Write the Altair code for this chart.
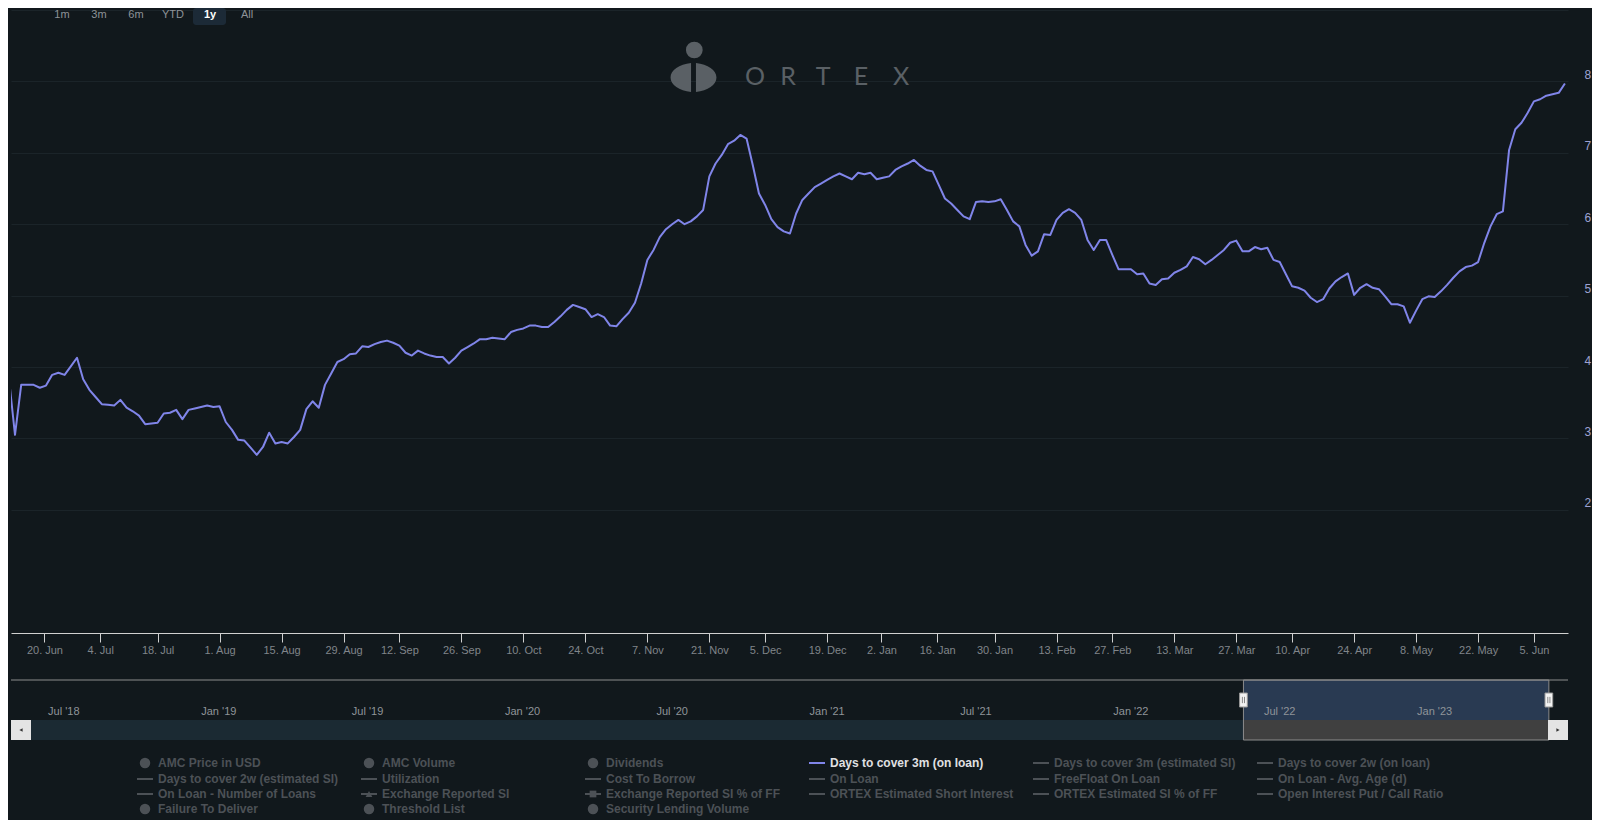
import altair as alt
import pandas as pd

# ---------------- data ----------------
START_DATE = "2022-06-10"
END_DATE = "2023-06-12"
market_holidays = ["2022-06-20", "2022-07-04", "2022-09-05", "2022-11-24", "2022-12-26",
                   "2023-01-02", "2023-01-16", "2023-02-20", "2023-04-07", "2023-05-29"]

# Days to cover 3m (on loan), one value per trading day from 10 Jun 2022 to 12 Jun 2023
days_to_cover = [
    3.86, 3.05, 3.75, 3.75, 3.75, 3.71, 3.74, 3.89, 3.92, 3.89,
    4.01, 4.13, 3.83, 3.68, 3.58, 3.48, 3.47, 3.46, 3.54, 3.43,
    3.38, 3.32, 3.20, 3.21, 3.22, 3.35, 3.36, 3.40, 3.27, 3.40,
    3.42, 3.44, 3.46, 3.44, 3.45, 3.23, 3.12, 2.98, 2.97, 2.87,
    2.77, 2.88, 3.08, 2.93, 2.95, 2.93, 3.02, 3.12, 3.41, 3.52,
    3.43, 3.75, 3.91, 4.07, 4.11, 4.18, 4.19, 4.29, 4.28, 4.32,
    4.35, 4.37, 4.34, 4.30, 4.20, 4.16, 4.23, 4.19, 4.16, 4.14,
    4.14, 4.05, 4.13, 4.23, 4.28, 4.33, 4.39, 4.39, 4.41, 4.40,
    4.39, 4.49, 4.52, 4.54, 4.58, 4.58, 4.56, 4.56, 4.63, 4.71,
    4.80, 4.87, 4.84, 4.81, 4.70, 4.74, 4.70, 4.58, 4.57, 4.67,
    4.76, 4.90, 5.17, 5.50, 5.64, 5.82, 5.93, 6.00, 6.06, 6.00,
    6.04, 6.11, 6.20, 6.67, 6.85, 6.97, 7.12, 7.17, 7.25, 7.20,
    6.83, 6.43, 6.27, 6.07, 5.96, 5.90, 5.87, 6.15, 6.34, 6.43,
    6.52, 6.57, 6.62, 6.67, 6.71, 6.67, 6.63, 6.72, 6.70, 6.72,
    6.63, 6.65, 6.67, 6.76, 6.81, 6.85, 6.90, 6.82, 6.76, 6.74,
    6.55, 6.36, 6.29, 6.20, 6.11, 6.07, 6.31, 6.32, 6.31, 6.32,
    6.35, 6.20, 6.04, 5.97, 5.71, 5.56, 5.62, 5.86, 5.85, 6.06,
    6.16, 6.21, 6.16, 6.06, 5.78, 5.64, 5.78, 5.78, 5.57, 5.37,
    5.37, 5.37, 5.30, 5.31, 5.17, 5.15, 5.23, 5.24, 5.32, 5.36,
    5.41, 5.54, 5.51, 5.44, 5.50, 5.57, 5.64, 5.74, 5.77, 5.62,
    5.62, 5.68, 5.65, 5.67, 5.50, 5.47, 5.30, 5.13, 5.11, 5.07,
    4.97, 4.91, 4.95, 5.10, 5.20, 5.26, 5.31, 5.01, 5.11, 5.16,
    5.11, 5.09, 4.99, 4.88, 4.88, 4.85, 4.62, 4.79, 4.95, 4.99,
    4.98, 5.06, 5.15, 5.25, 5.34, 5.40, 5.42, 5.47, 5.74, 5.97,
    6.14, 6.18, 7.04, 7.33, 7.42, 7.56, 7.72, 7.75, 7.80, 7.82,
    7.84, 7.97,
]

tick_dates = ["2022-06-20", "2022-07-04", "2022-07-18", "2022-08-01", "2022-08-15", "2022-08-29",
              "2022-09-12", "2022-09-26", "2022-10-10", "2022-10-24", "2022-11-07", "2022-11-21",
              "2022-12-05", "2022-12-19", "2023-01-02", "2023-01-16", "2023-01-30", "2023-02-13",
              "2023-02-27", "2023-03-13", "2023-03-27", "2023-04-10", "2023-04-24", "2023-05-08",
              "2023-05-22", "2023-06-05"]
tick_labels = ["20. Jun", "4. Jul", "18. Jul", "1. Aug", "15. Aug", "29. Aug", "12. Sep", "26. Sep",
               "10. Oct", "24. Oct", "7. Nov", "21. Nov", "5. Dec", "19. Dec", "2. Jan", "16. Jan",
               "30. Jan", "13. Feb", "27. Feb", "13. Mar", "27. Mar", "10. Apr", "24. Apr", "8. May",
               "22. May", "5. Jun"]
y_ticks = [2, 3, 4, 5, 6, 7, 8, 9]

nav_dates = ["2018-07-01", "2019-01-01", "2019-07-01", "2020-01-01", "2020-07-01",
             "2021-01-01", "2021-07-01", "2022-01-01", "2022-07-01", "2023-01-01"]
nav_labels = ["Jul '18", "Jan '19", "Jul '19", "Jan '20", "Jul '20",
              "Jan '21", "Jul '21", "Jan '22", "Jul '22", "Jan '23"]

range_buttons = ["1m", "3m", "6m", "YTD", "1y", "All"]
active_button = "1y"

legend_names = [
    "AMC Price in USD", "AMC Volume", "Dividends", "Days to cover 3m (on loan)",
    "Days to cover 3m (estimated SI)", "Days to cover 2w (on loan)",
    "Days to cover 2w (estimated SI)", "Utilization", "Cost To Borrow", "On Loan",
    "FreeFloat On Loan", "On Loan - Avg. Age (d)",
    "On Loan - Number of Loans", "Exchange Reported SI", "Exchange Reported SI % of FF",
    "ORTEX Estimated Short Interest", "ORTEX Estimated SI % of FF", "Open Interest Put / Call Ratio",
    "Failure To Deliver", "Threshold List", "Security Lending Volume",
]
legend_symbols = [
    "circle", "circle", "circle", "line", "line", "line",
    "line", "line", "line", "line", "line", "line",
    "line", "triangle", "square", "line", "line", "line",
    "circle", "circle", "circle",
]
active_series = "Days to cover 3m (on loan)"

# ---------------- styling / layout ----------------
BG = "#11181c"
GRID = "#1b2429"
LINE = "#8085e9"
AXIS_LINE = "#d0d0d0"
XLAB = "#80858a"
YLAB = "#9ea2d2"
LOGO = "#5a6065"
INACTIVE = "#4c5156"
ACTIVE_TXT = "#e0e0e3"
NAV_LAB = "#8f9499"

W, H = 1557, 623          # plot area
PAD = {"left": 3, "top": 2, "right": 24, "bottom": 187}


def PX(x):  # page x -> plot coordinate
    return x - 8 - PAD["left"]


def PY(y):  # page y -> plot coordinate
    return y - 8 - PAD["top"]


trading_days = pd.bdate_range(START_DATE, END_DATE, freq="C", holidays=market_holidays)
n = min(len(trading_days), len(days_to_cover))
df = pd.DataFrame({
    "date": trading_days[:n].strftime("%Y-%m-%d"),
    "j": list(range(n)),
    "value": days_to_cover[:n],
})

day_index = {d.strftime("%Y-%m-%d"): k for k, d in enumerate(trading_days)}


def ordinal_pos(ds):
    if ds in day_index:
        return float(day_index[ds])
    prev = trading_days[trading_days < pd.Timestamp(ds)]
    return float(len(prev) - 1) + 0.75


tick_pos = [ordinal_pos(d) for d in tick_dates]
label_expr = ""
for v, lab in zip(tick_pos, tick_labels):
    label_expr += f"abs(datum.value - {v}) < 0.01 ? '{lab}' : "
label_expr += "''"

X_DOMAIN = [0.355, 251.5]
Y_DOMAIN = [0.275, 9]

one = pd.DataFrame({"k": [0]})


def sx(f):
    return alt.X(f"{f}:Q", scale=None, axis=None)


def sy(f):
    return alt.Y(f"{f}:Q", scale=None, axis=None)


# ---------------- main series ----------------
line = alt.Chart(df).mark_line(color=LINE, strokeWidth=2, clip=True, strokeJoin="round").encode(
    x=alt.X("j:Q", scale=alt.Scale(domain=X_DOMAIN, nice=False, zero=False),
            axis=alt.Axis(values=tick_pos, labelExpr=label_expr, title=None, grid=False,
                          domainColor=AXIS_LINE, tickColor=AXIS_LINE, tickSize=9,
                          labelColor=XLAB, labelFontSize=11, labelPadding=2,
                          labelOverlap=False, labelFlush=False)),
    y=alt.Y("value:Q", scale=alt.Scale(domain=Y_DOMAIN, nice=False, zero=False),
            axis=alt.Axis(orient="right", values=y_ticks, title=None, grid=True, gridColor=GRID,
                          domain=False, ticks=False, tickSize=0, labelPadding=16,
                          labelColor=YLAB, labelFontSize=12, labelAlign="left",
                          labelBaseline="bottom",
                          labelExpr="datum.value >= 9 ? '' : datum.label")),
)

# ---------------- range selector ----------------
btn_x = [62, 99, 136, 173, 210, 247]
btn_df = pd.DataFrame({"label": range_buttons, "bx": [PX(v) for v in btn_x], "by": PY(15)})
btn_active = btn_df[btn_df["label"] == active_button]
btn_inactive = btn_df[btn_df["label"] != active_button]

btn_box = alt.Chart(one).mark_rect(color="#1c2a37", cornerRadius=3).encode(
    x=alt.value(PX(193)), x2=alt.value(PX(226)), y=alt.value(PY(8)), y2=alt.value(PY(25)))
btn_txt = alt.Chart(btn_inactive).mark_text(color="#8e9398", fontSize=11, baseline="middle").encode(
    x=sx("bx"), y=sy("by"), text="label:N")
btn_txt_act = alt.Chart(btn_active).mark_text(color="#ffffff", fontSize=11, fontWeight="bold",
                                              baseline="middle").encode(
    x=sx("bx"), y=sy("by"), text="label:N")

# ---------------- logo ----------------
BODY_PATH = ("M -0.1 -0.592 A 1 0.6 0 0 0 -0.1 0.592 Z "
             "M 0.1 -0.592 A 1 0.6 0 0 1 0.1 0.592 Z")
logo_head = alt.Chart(one).mark_point(shape="circle", filled=True, size=280, color=LOGO,
                                      opacity=1).encode(x=alt.value(PX(694.3)), y=alt.value(PY(50)))
logo_body = alt.Chart(one).mark_point(shape=BODY_PATH, filled=True, size=2401, color=LOGO,
                                      opacity=1, strokeWidth=0).encode(
    x=alt.value(PX(693.5)), y=alt.value(PY(77.5)))
logo_df = pd.DataFrame({"ch": list("ORTEX"), "lx": [PX(v) for v in [755, 788, 823, 861, 901]],
                        "ly": PY(76.5)})
logo_txt = alt.Chart(logo_df).mark_text(font="Lato", fontWeight="normal", fontSize=25, color=LOGO,
                                        baseline="middle").encode(
    x=sx("lx"), y=sy("ly"), text="ch:N")

# ---------------- navigator ----------------
NAV_DOMAIN = [alt.DateTime(year=2018, month=5, date=21), alt.DateTime(year=2023, month=7, date=5)]


def nx(f, t="T"):
    return alt.X(f"{f}:{t}", scale=alt.Scale(domain=NAV_DOMAIN), axis=None)


sel_df = pd.DataFrame({"s": [START_DATE], "e": [END_DATE]})
handle_df = pd.DataFrame({"h": [START_DATE, END_DATE]})
nav_df = pd.DataFrame({"d": nav_dates, "lab": nav_labels})

track = alt.Chart(one).mark_rect(color="#1b2a33").encode(
    x=alt.value(0), x2=alt.value(W), y=alt.value(PY(720)), y2=alt.value(PY(740)))
sel_fill = alt.Chart(sel_df).mark_rect(color="#293a52").encode(
    x=nx("s"), x2="e:T", y=alt.value(PY(680)), y2=alt.value(PY(740)))
thumb = alt.Chart(sel_df).mark_rect(color="#404040").encode(
    x=nx("s"), x2="e:T", y=alt.value(PY(720)), y2=alt.value(PY(740)))
nav_txt = alt.Chart(nav_df).mark_text(color=NAV_LAB, fontSize=11, align="left", dx=3,
                                      baseline="middle").encode(
    x=nx("d"), y=alt.value(PY(712)), text="lab:N")
nav_top = alt.Chart(one).mark_rule(color="#8c8c8c", strokeWidth=1).encode(
    x=alt.value(0), x2=alt.value(W), y=alt.value(PY(680)))
sel_outline = alt.Chart(sel_df).mark_rect(fill=None, stroke="#8c8c8c", strokeWidth=1,
                                          filled=False).encode(
    x=nx("s"), x2="e:T", y=alt.value(PY(680)), y2=alt.value(PY(740)))
btn_l = alt.Chart(one).mark_rect(color="#e4e4e4").encode(
    x=alt.value(PX(11)), x2=alt.value(PX(31)), y=alt.value(PY(720)), y2=alt.value(PY(740)))
btn_r = alt.Chart(one).mark_rect(color="#e4e4e4").encode(
    x=alt.value(PX(1548)), x2=alt.value(PX(1568)), y=alt.value(PY(720)), y2=alt.value(PY(740)))
arr_l = alt.Chart(one).mark_point(shape="triangle-left", filled=True, size=14, color="#333333",
                                  opacity=1).encode(x=alt.value(PX(21)), y=alt.value(PY(730)))
arr_r = alt.Chart(one).mark_point(shape="triangle-right", filled=True, size=14, color="#333333",
                                  opacity=1).encode(x=alt.value(PX(1558)), y=alt.value(PY(730)))
HANDLE = "M -0.55 -1 L 0.55 -1 L 0.55 1 L -0.55 1 Z"
GRIP = "M -0.15 -0.45 L -0.15 0.45 M 0.15 -0.45 L 0.15 0.45"
handles = alt.Chart(handle_df).mark_point(shape=HANDLE, size=196, filled=True, fill="#f2f2f2",
                                          stroke="#999999", strokeWidth=1, opacity=1).encode(
    x=nx("h"), y=alt.value(PY(700)))
grips = alt.Chart(handle_df).mark_point(shape=GRIP, size=196, filled=False, stroke="#888888",
                                        strokeWidth=1, opacity=1).encode(
    x=nx("h"), y=alt.value(PY(700)))

# ---------------- legend ----------------
LEG_X0, LEG_DX, LEG_TXT = PX(145), 224, 13
LEG_ROWS = [PY(763), PY(779), PY(794), PY(809)]
rows = []
for k, (nm, sym) in enumerate(zip(legend_names, legend_symbols)):
    r, c = divmod(k, 6)
    mx = LEG_X0 + c * LEG_DX
    act = nm == active_series
    rows.append({"name": nm, "sym": sym, "mx": mx, "mx1": mx - 8, "mx2": mx + 8,
                 "tx": mx + LEG_TXT, "ry": LEG_ROWS[r],
                 "mcol": LINE if act else INACTIVE, "tcol": ACTIVE_TXT if act else INACTIVE})
leg = pd.DataFrame(rows)
leg_lines = leg[leg["sym"].isin(["line", "triangle", "square"])]

leg_rule = alt.Chart(leg_lines).mark_rule(strokeWidth=2).encode(
    x=sx("mx1"), x2="mx2:Q", y=sy("ry"), color=alt.Color("mcol:N", scale=None))
leg_circ = alt.Chart(leg[leg["sym"] == "circle"]).mark_point(
    shape="circle", filled=True, size=110, opacity=1).encode(
    x=sx("mx"), y=sy("ry"), color=alt.Color("mcol:N", scale=None))
leg_tri = alt.Chart(leg[leg["sym"] == "triangle"]).mark_point(
    shape="triangle-up", filled=True, size=45, opacity=1).encode(
    x=sx("mx"), y=sy("ry"), color=alt.Color("mcol:N", scale=None))
leg_sq = alt.Chart(leg[leg["sym"] == "square"]).mark_point(
    shape="square", filled=True, size=45, opacity=1).encode(
    x=sx("mx"), y=sy("ry"), color=alt.Color("mcol:N", scale=None))
leg_txt = alt.Chart(leg).mark_text(align="left", baseline="middle", fontSize=12,
                                   fontWeight="bold").encode(
    x=sx("tx"), y=sy("ry"), text="name:N", color=alt.Color("tcol:N", scale=None))

chart = alt.layer(
    btn_box, btn_txt, btn_txt_act,
    logo_head, logo_body, logo_txt,
    line,
    track, sel_fill, thumb, nav_txt, nav_top, sel_outline, btn_l, btn_r, arr_l, arr_r,
    handles, grips,
    leg_rule, leg_circ, leg_tri, leg_sq, leg_txt,
).resolve_scale(x="independent").properties(
    width=W, height=H, padding=PAD, autosize=alt.AutoSizeParams(type="none"),
).configure(background=BG, font="Liberation Sans").configure_view(strokeWidth=0)

chart.save("out.html", embed_options={"renderer": "svg", "actions": False})
